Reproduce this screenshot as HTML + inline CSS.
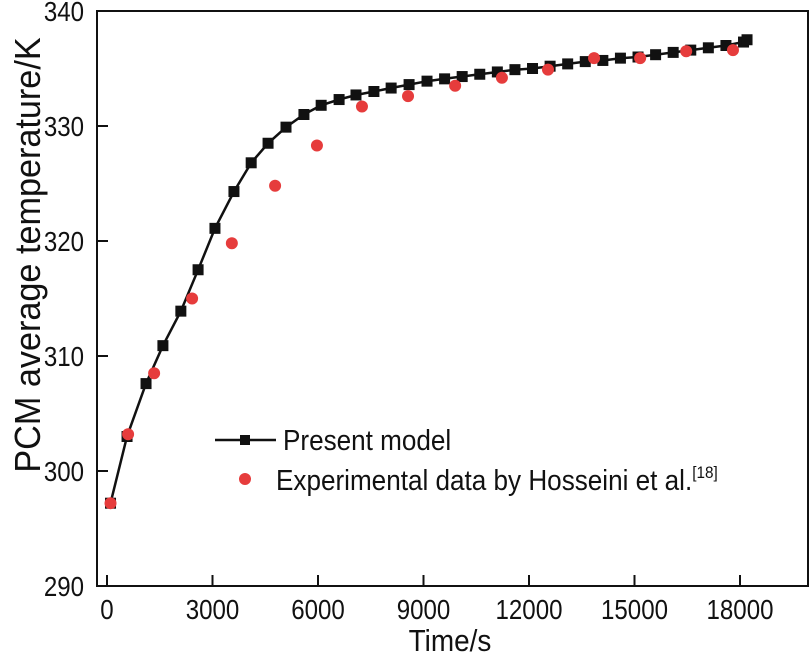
<!DOCTYPE html>
<html><head><meta charset="utf-8"><style>
html,body{margin:0;padding:0;background:#fff}
svg{display:block;font-family:"Liberation Sans",Arial,sans-serif}
</style></head><body>
<svg id="chart" width="811" height="657" viewBox="0 0 811 657" xmlns="http://www.w3.org/2000/svg">
<g id="axes"></g>
<g id="series"></g>
<g id="legend">
 <line x1="215" y1="440" x2="276" y2="440" stroke="#111" stroke-width="2.5"/>
 <rect x="240" y="435" width="10" height="10" fill="#111"/>
 <text transform="translate(283,450) scale(0.9,1)" font-size="29" fill="#111">Present model</text>
 <circle cx="245" cy="479" r="6" fill="#e63c3c"/>
 <text transform="translate(276,490) scale(0.9,1)" font-size="29" fill="#111">Experimental data by Hosseini et al.<tspan font-size="17" dy="-12">[18]</tspan></text>
</g>
<text transform="translate(450,651) scale(0.9,1)" font-size="31" text-anchor="middle" fill="#111">Time/s</text>
<text transform="translate(40,255) rotate(-90) scale(0.95,1)" font-size="36" text-anchor="middle" fill="#111">PCM average temperature/K</text>
</svg>
<script>
const modelTime=[100,570,1110,1590,2100,2590,3070,3610,4100,4580,5090,5600,6090,6600,7080,7590,8080,8590,9100,9600,10100,10600,11100,11600,12100,12600,13100,13600,14100,14600,15100,15600,16100,16600,17100,17600,18100,18200];
const modelTemp=[297.2,303,307.6,310.9,313.9,317.5,321.1,324.3,326.8,328.5,329.9,331,331.8,332.3,332.7,333,333.3,333.6,333.9,334.1,334.3,334.5,334.7,334.9,335,335.2,335.4,335.6,335.7,335.9,336,336.2,336.4,336.6,336.8,337,337.3,337.5];
const expTime=[100,600,1340,2420,3550,4780,5970,7250,8560,9900,11230,12540,13850,15160,16470,17800];
const expTemp=[297.2,303.2,308.5,315,319.8,324.8,328.3,331.7,332.6,333.5,334.2,334.9,335.9,335.9,336.5,336.6];
const xTicks=[0,3000,6000,9000,12000,15000,18000];
const yTicks=[290,300,310,320,330,340];
const L=97,R=808,T=11,B=586;
function xs(t){return 107+t*(105.5/3000);}
function ys(v){return B-(v-290)*(B-T)/50;}
const NS='http://www.w3.org/2000/svg';
function mk(tag,attrs,parent){const e=document.createElementNS(NS,tag);for(const k in attrs)e.setAttribute(k,attrs[k]);parent.appendChild(e);return e;}
const axes=document.getElementById('axes'),series=document.getElementById('series');
const frame=mk('rect',{x:L,y:T,width:R-L,height:B-T,fill:'none',stroke:'#111','stroke-width':2},axes);


xTicks.forEach(t=>{
 const l=mk('line',{x1:xs(t),x2:xs(t),y1:B,y2:B-11,stroke:'#111','stroke-width':2},axes);
 
 
 const tx=mk('text',{transform:'translate('+xs(t)+','+(B+33)+') scale(0.86,1)','font-size':28,'text-anchor':'middle',fill:'#111'},axes);
 tx.textContent=t;
 
 
});
yTicks.forEach(v=>{
 const l=mk('line',{x1:L,x2:L+11,y1:ys(v),y2:ys(v),stroke:'#111','stroke-width':2},axes);
 
 
 const tx=mk('text',{transform:'translate('+(L-13)+','+(ys(v)+10)+') scale(0.86,1)','font-size':28,'text-anchor':'end',fill:'#111'},axes);
 tx.textContent=v;
 
 
});
const pts=modelTime.map((t,i)=>xs(t).toFixed(1)+','+ys(modelTemp[i]).toFixed(1)).join(' ');
const pl=mk('polyline',{points:pts,fill:'none',stroke:'#111','stroke-width':2.5},series);


modelTime.forEach((t,i)=>{
 const r=mk('rect',{x:xs(t)-5.5,y:ys(modelTemp[i])-5.5,width:11,height:11,fill:'#111'},series);
 
 
});
expTime.forEach((t,i)=>{
 const c=mk('circle',{cx:xs(t),cy:ys(expTemp[i]),r:6,fill:'#e63c3c'},series);
 
 
});
</script>
</body></html>
